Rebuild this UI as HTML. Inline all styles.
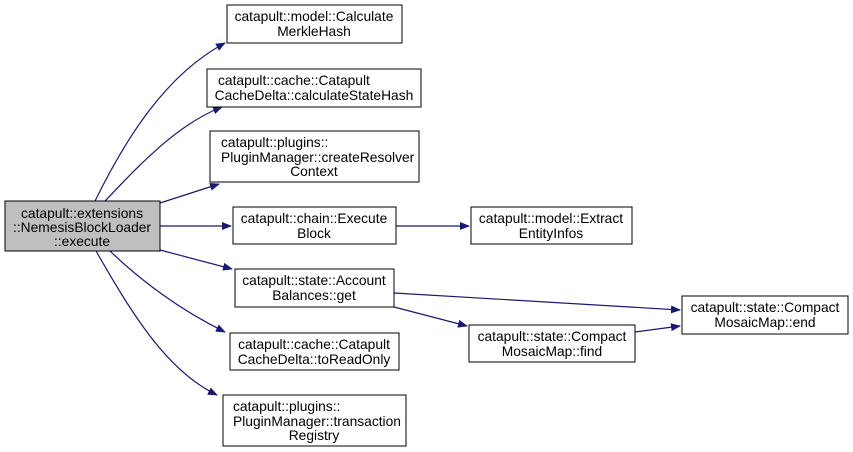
<!DOCTYPE html>
<html><head><style>body{margin:0;background:#fff}svg{display:block}text{font-family:"Liberation Sans",Arial,sans-serif;font-size:13.8px;fill:#000}</style></head><body>
<svg width="853" height="452" viewBox="0 0 853 452">
<defs><marker id="a" markerWidth="10" markerHeight="8" refX="9" refY="4" orient="auto" markerUnits="userSpaceOnUse"><path d="M0,0 L10,4 L0,8 z" fill="#191970"/></marker></defs>
<g fill="none" stroke="#191970" stroke-width="1.2">
<path d="M95,201 C125,140 165,75 225,43" marker-end="url(#a)"/>
<path d="M105,201 C135,170 175,125 222,107" marker-end="url(#a)"/>
<path d="M160,203 L219,184" marker-end="url(#a)"/>
<path d="M160,226 L231,226" marker-end="url(#a)"/>
<path d="M160,250 L232,269" marker-end="url(#a)"/>
<path d="M110,251 C140,280 180,310 225,332" marker-end="url(#a)"/>
<path d="M96,251 C130,310 165,370 217,395" marker-end="url(#a)"/>
<path d="M396,226 L469,226" marker-end="url(#a)"/>
<path d="M394,293 L680,310" marker-end="url(#a)"/>
<path d="M394,307 L467,326" marker-end="url(#a)"/>
<path d="M635,332 L680,326" marker-end="url(#a)"/>
</g>
<g stroke="#000" stroke-width="1" fill="#fff">
<rect x="5" y="201" width="155" height="50" fill="#bfbfbf"/>
<rect x="227" y="5" width="175" height="38"/>
<rect x="207" y="69" width="214" height="38"/>
<rect x="210" y="131" width="209" height="51"/>
<rect x="233" y="207" width="163" height="37"/>
<rect x="471" y="207" width="161" height="37"/>
<rect x="235" y="269" width="159" height="38"/>
<rect x="682" y="296" width="166" height="38"/>
<rect x="469" y="325" width="166" height="37"/>
<rect x="230" y="333" width="169" height="37"/>
<rect x="223" y="395" width="183" height="51"/>
</g>
<g text-anchor="middle">
<text x="82" y="218">catapult::extensions</text>
<text x="82" y="232">::NemesisBlockLoader</text>
<text x="82" y="246">::execute</text>
<text x="314" y="21">catapult::model::Calculate</text>
<text x="314" y="36">MerkleHash</text>
<text x="314" y="100">CacheDelta::calculateStateHash</text>
<text x="314" y="176">Context</text>
<text x="314" y="223">catapult::chain::Execute</text>
<text x="314" y="238">Block</text>
<text x="551" y="223">catapult::model::Extract</text>
<text x="551" y="238">EntityInfos</text>
<text x="314" y="285">catapult::state::Account</text>
<text x="314" y="300">Balances::get</text>
<text x="765" y="312">catapult::state::Compact</text>
<text x="765" y="327">MosaicMap::end</text>
<text x="552" y="341">catapult::state::Compact</text>
<text x="552" y="356">MosaicMap::find</text>
<text x="314" y="349">catapult::cache::Catapult</text>
<text x="314" y="364">CacheDelta::toReadOnly</text>
<text x="314" y="440">Registry</text>
</g>
<g text-anchor="start">
<text x="218" y="85">catapult::cache::Catapult</text>
<text x="221" y="147">catapult::plugins::</text>
<text x="221" y="162">PluginManager::createResolver</text>
<text x="233" y="411">catapult::plugins::</text>
<text x="233" y="426">PluginManager::transaction</text>
</g>
</svg>
</body></html>
